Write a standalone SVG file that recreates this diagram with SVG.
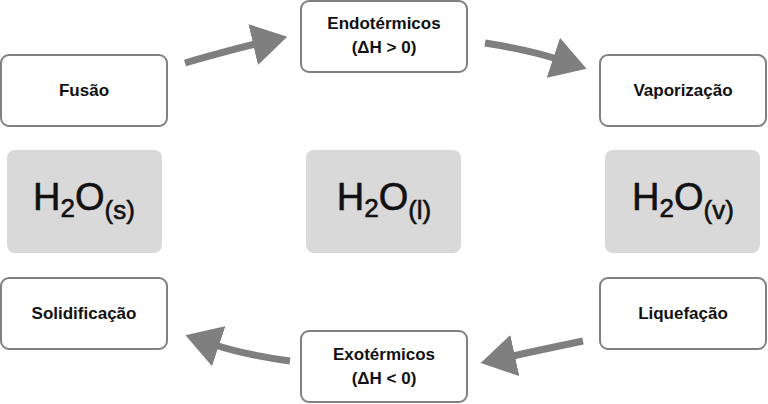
<svg xmlns="http://www.w3.org/2000/svg" width="768" height="404" viewBox="0 0 768 404">
<style>
.b{fill:#fff;stroke:#808080;stroke-width:2}
.g{fill:#d9d9d9}
.t{font-family:"Liberation Sans",Arial,sans-serif;font-weight:bold;font-size:17px;fill:#111;text-anchor:middle}
.h{font-family:"Liberation Sans",Arial,sans-serif;font-size:38px;fill:#111;text-anchor:middle;stroke:#111;stroke-width:0.6}
.c{fill:none;stroke:#7f7f7f;stroke-width:7}
</style>
<defs><marker id="a" markerWidth="6" markerHeight="6" refX="1" refY="3" orient="auto" markerUnits="strokeWidth"><path d="M0,0L5,3L0,6Z" fill="#7f7f7f"/></marker></defs>
<rect width="768" height="404" fill="#fff"/>
<g id="connectors">
<path class="c" d="M185,63 Q230,50 260,43" marker-end="url(#a)"/>
<path class="c" d="M485,43 Q530,50 560,60" marker-end="url(#a)"/>
<path class="c" d="M583,341 Q540,350 508,357" marker-end="url(#a)"/>
<path class="c" d="M290,361 Q245,355 212,344" marker-end="url(#a)"/>
</g>
<g id="fusao"><rect class="b" x="1" y="55" width="166" height="71" rx="8"/><text class="t" x="84" y="96">Fusão</text></g>
<g id="endo"><rect class="b" x="301" y="1" width="166" height="71" rx="8"/><text class="t" x="384" y="29">Endotérmicos</text><text class="t" x="384" y="53">(ΔH &gt; 0)</text></g>
<g id="vapor"><rect class="b" x="600" y="55" width="166" height="71" rx="8"/><text class="t" x="683" y="96">Vaporização</text></g>
<g id="s"><rect class="g" x="7" y="150" width="155" height="103" rx="8"/><text class="h" x="84" y="210">H<tspan font-size="26" dy="7">2</tspan><tspan dy="-7">O</tspan><tspan font-size="26" dy="9">(s)</tspan></text></g>
<g id="l"><rect class="g" x="306" y="150" width="155" height="103" rx="8"/><text class="h" x="384" y="210">H<tspan font-size="26" dy="7">2</tspan><tspan dy="-7">O</tspan><tspan font-size="26" dy="9">(l)</tspan></text></g>
<g id="v"><rect class="g" x="605" y="150" width="155" height="103" rx="8"/><text class="h" x="683" y="210">H<tspan font-size="26" dy="7">2</tspan><tspan dy="-7">O</tspan><tspan font-size="26" dy="9">(v)</tspan></text></g>
<g id="solid"><rect class="b" x="1" y="278" width="166" height="71" rx="8"/><text class="t" x="84" y="319">Solidificação</text></g>
<g id="exo"><rect class="b" x="301" y="331" width="166" height="71" rx="8"/><text class="t" x="384" y="360">Exotérmicos</text><text class="t" x="384" y="384">(ΔH &lt; 0)</text></g>
<g id="liq"><rect class="b" x="600" y="278" width="166" height="71" rx="8"/><text class="t" x="683" y="319">Liquefação</text></g>
</svg>
